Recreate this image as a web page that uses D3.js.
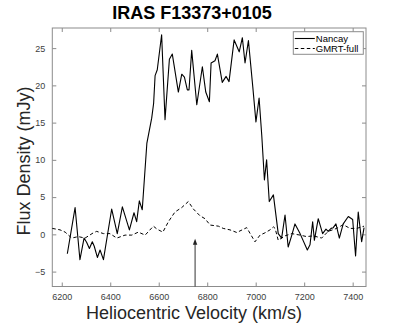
<!DOCTYPE html>
<html>
<head>
<meta charset="utf-8">
<script src="https://cdn.jsdelivr.net/npm/d3@7"></script>
<style>
  body { margin: 0; background: #fff; }
  text { font-family: "Liberation Sans", Arial, sans-serif; }
</style>
</head>
<body>
<div id="chart"></div>
<script>
// Nancay spectrum (km/s, mJy)
var nancayVel = [6223, 6255, 6275, 6292, 6303, 6314, 6326, 6334, 6347, 6358, 6372, 6406, 6429, 6450, 6479, 6498,
    6509, 6520, 6532, 6551, 6571, 6579, 6585, 6594, 6612, 6626, 6644, 6656, 6681, 6695, 6706, 6718, 6725, 6736,
    6757, 6780, 6794, 6809, 6816, 6832, 6842, 6862, 6878, 6890, 6911, 6932, 6945, 6956, 6970, 6988, 7001, 7014,
    7025, 7036, 7045, 7056, 7073, 7093, 7107, 7121, 7134, 7149, 7162, 7183, 7213, 7224, 7235, 7242, 7258, 7276,
    7290, 7299, 7311, 7320, 7331, 7345, 7361, 7382, 7400, 7412, 7423, 7437, 7447];
var nancayFlux = [-2.6, 3.6, -3.4, -0.5, -1.1, -1.9, -1.0, -1.6, -3.1, -2.1, -3.4, 3.4, 0.1, 3.7, 0.6, 2.9,
    1.7, 4.5, 3.3, 12.2, 15.6, 17.6, 21.3, 22.1, 26.8, 15.4, 23.5, 24.2, 19.1, 21.5, 21.1, 19.4, 19.4, 24.7,
    17.4, 22.5, 19.1, 17.8, 23.0, 23.3, 24.2, 20.4, 21.2, 20.5, 26.1, 24.5, 26.4, 23.0, 26.0, 19.8, 15.1, 18.3,
    13.3, 7.3, 10.0, 4.4, 5.3, 0.1, -0.5, 2.6, -1.7, -0.1, 1.4, 0.1, -2.1, -1.4, 1.7, -0.8, 2.1, 0.1,
    0.7, 0.4, 0.8, 0.9, 1.4, -0.5, 1.4, 2.4, 2.0, -2.9, 3.0, -1.0, 0.9];

// GMRT-full spectrum
var gmrtVel = [6161, 6193, 6214, 6241, 6268, 6296, 6330, 6344, 6372, 6399, 6427, 6461, 6489, 6516, 6544, 6578,
    6593, 6617, 6640, 6667, 6695, 6722, 6743, 6770, 6791, 6812, 6846, 6866, 6894, 6922, 6963, 6997, 7018, 7038,
    7059, 7073, 7080, 7093, 7121, 7149, 7183, 7210, 7238, 7272, 7299, 7334, 7361, 7389, 7417, 7447];
var gmrtFlux = [0.8, 0.6, 0.3, -0.5, -0.3, -0.5, 0.2, 0.4, 0.1, 0.1, -0.5, -0.1, -0.1, 0.3, -0.1, 1.1,
    0.7, 0.3, 1.7, 3.0, 3.6, 4.4, 3.4, 2.5, 2.1, 1.25, 1.1, 0.8, 0.6, 0.25, 0.9, -1.0, -0.1, 0.2,
    0.6, 1.0, 0.8, -0.8, -0.2, 0.1, -0.1, -0.3, -0.2, -0.5, 0.4, 0.8, 1.3, 0.8, 0.8, 1.1];

var xTicks = [6200, 6400, 6600, 6800, 7000, 7200, 7400];
var yTicks = [-5, 0, 5, 10, 15, 20, 25];
var arrowVel = 6750;

var W = 407, H = 326;
var margin = {top: 28, right: 41, bottom: 39.5, left: 52.3},
    width = W - margin.left - margin.right,
    height = H - margin.top - margin.bottom;

var svg = d3.select("#chart").append("svg")
    .attr("width", W)
    .attr("height", H);

var g = svg.append("g")
    .attr("transform", `translate(${margin.left},${margin.top})`);

var x = d3.scaleLinear().domain([6161, 7455]).range([0, width]);
var y = d3.scaleLinear().domain([-7, 27.7]).range([height, 0]);

var axisColor = "#8c8c8c", labelColor = "#404040";

function styleAxis(sel) {
    sel.select(".domain").remove();
    sel.selectAll(".tick line").attr("stroke", axisColor);
    sel.selectAll(".tick text").attr("fill", labelColor).attr("font-size", 9)
        .attr("font-family", "Liberation Sans, Arial, sans-serif");
}

g.append("g").attr("transform", `translate(0,${height})`)
    .call(d3.axisBottom(x).tickValues(xTicks).tickSize(-4).tickPadding(7.5).tickFormat(d3.format("d")))
    .call(styleAxis);
g.append("g")
    .call(d3.axisTop(x).tickValues(xTicks).tickSize(-4).tickFormat(""))
    .call(styleAxis);
g.append("g")
    .call(d3.axisLeft(y).tickValues(yTicks).tickSize(-4).tickPadding(7))
    .call(styleAxis);
g.append("g").attr("transform", `translate(${width},0)`)
    .call(d3.axisRight(y).tickValues(yTicks).tickSize(-4).tickFormat(""))
    .call(styleAxis);

g.append("rect")
    .attr("width", width).attr("height", height)
    .attr("fill", "none").attr("stroke", axisColor).attr("stroke-width", 1);

var line = d3.line().x(d => x(d[0])).y(d => y(d[1]));

g.append("path")
    .datum(d3.zip(gmrtVel, gmrtFlux))
    .attr("fill", "none").attr("stroke", "#000").attr("stroke-width", 1)
    .attr("stroke-dasharray", "3.5,2.5")
    .attr("d", line);

g.append("path")
    .datum(d3.zip(nancayVel, nancayFlux))
    .attr("fill", "none").attr("stroke", "#000").attr("stroke-width", 1.1)
    .attr("stroke-linejoin", "round")
    .attr("d", line);

// arrow marking systemic velocity
var ax = x(arrowVel), tipY = y(-0.6);
g.append("line")
    .attr("x1", ax).attr("x2", ax).attr("y1", height).attr("y2", tipY + 4)
    .attr("stroke", "#333").attr("stroke-width", 1);
g.append("path")
    .attr("d", `M${ax},${tipY} L${ax - 2.2},${tipY + 6} L${ax + 2.2},${tipY + 6} Z`)
    .attr("fill", "#222");

// legend
var lg = svg.append("g").attr("transform", "translate(293.3,31.7)");
lg.append("rect").attr("width", 70).attr("height", 22.6)
    .attr("fill", "#fff").attr("stroke", axisColor).attr("stroke-width", 1);
var items = [{name: "Nancay", dash: null, w: 1.1}, {name: "GMRT-full", dash: "3.5,2.5", w: 1}];
items.forEach(function(it, i) {
    var yy = 6.8 + i * 10;
    lg.append("line").attr("x1", 1.5).attr("x2", 21.5).attr("y1", yy).attr("y2", yy)
        .attr("stroke", "#000").attr("stroke-width", it.w)
        .attr("stroke-dasharray", it.dash);
    lg.append("text").attr("x", 22.5).attr("y", yy + 3.4)
        .attr("font-size", 9.5).attr("fill", "#000").text(it.name);
});

// title and axis labels
svg.append("text")
    .attr("x", 192).attr("y", 18.5)
    .attr("text-anchor", "middle").attr("font-size", 18).attr("font-weight", "bold")
    .text("IRAS F13373+0105");

svg.append("text")
    .attr("x", 194).attr("y", 318.5)
    .attr("text-anchor", "middle").attr("font-size", 18).attr("fill", "#262626")
    .text("Heliocentric Velocity (km/s)");

svg.append("text")
    .attr("transform", "translate(30,161) rotate(-90)")
    .attr("text-anchor", "middle").attr("font-size", 18).attr("fill", "#262626")
    .text("Flux Density (mJy)");
</script>
</body>
</html>
